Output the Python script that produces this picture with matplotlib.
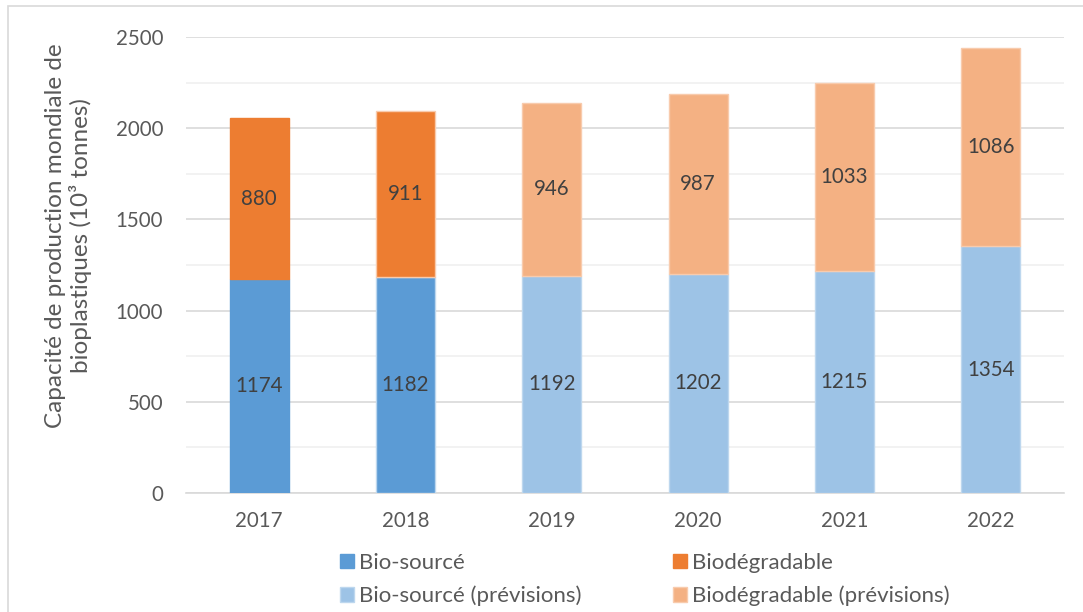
import matplotlib
matplotlib.use("Agg")
import matplotlib.pyplot as plt
from matplotlib.patches import Rectangle, Patch
import numpy as np

years = ["2017", "2018", "2019", "2020", "2021", "2022"]
bio_source = [1174, 1182, 1192, 1202, 1215, 1354]
biodegradable = [880, 911, 946, 987, 1033, 1086]
forecast = [False, False, True, True, True, True]
legend_labels = ["Bio-sourcé", "Biodégradable", "Bio-sourcé (prévisions)", "Biodégradable (prévisions)"]
ylabel = "Capacité de production mondiale de\nbioplastiques (10³ tonnes)"
yticks = [0, 500, 1000, 1500, 2000, 2500]

c_bs = "#5B9BD5"
c_bd = "#ED7D31"
c_bs_f = "#9DC3E6"
c_bd_f = "#F4B183"
text_col = "#595959"
label_col = "#404040"

plt.rcParams['font.family'] = ['Lato', 'DejaVu Sans']

W, H = 1083, 612
fig = plt.figure(figsize=(W / 100, H / 100), dpi=100)
fig.patches.append(Rectangle((8 / W, -0.1), 1.2, (H - 6) / H + 0.1, transform=fig.transFigure,
                             fill=False, edgecolor="#D9D9D9", linewidth=1.2))
ax = fig.add_axes([186 / W, 1 - 493 / H, 878 / W, 456 / H])

x = np.arange(len(years))
w = 0.405
fs = 14.8
for i in range(len(years)):
    f = forecast[i]
    cb = c_bs_f if f else c_bs
    co = c_bd_f if f else c_bd
    edge_b = "#BDD7EE" if (f or i == 1) else cb
    edge_o = "#F8CBAD" if (f or i == 1) else co
    ax.bar(x[i], bio_source[i], width=w, color=cb, edgecolor=edge_b, linewidth=1.0, zorder=3)
    ax.bar(x[i], biodegradable[i], width=w, bottom=bio_source[i], color=co,
           edgecolor=edge_o, linewidth=1.0, zorder=3)
    ax.text(x[i], bio_source[i] / 2, str(bio_source[i]), ha="center", va="center",
            fontsize=fs, color=label_col, zorder=4)
    ax.text(x[i], bio_source[i] + biodegradable[i] / 2, str(biodegradable[i]), ha="center",
            va="center", fontsize=fs, color=label_col, zorder=4)

ax.set_xlim(-0.5, len(years) - 0.5)
ax.set_ylim(0, 2500)
ax.set_yticks(yticks)
ax.set_yticks(np.arange(250, 2500, 500), minor=True)
ax.set_xticks(x)
ax.set_xticklabels(years)
ax.tick_params(axis="both", which="both", length=0, labelsize=fs, labelcolor=text_col)
ax.tick_params(axis="y", pad=16.5)
ax.tick_params(axis="x", pad=13)
ax.grid(axis="y", which="major", color="#D9D9D9", linewidth=1.2, zorder=0)
ax.grid(axis="y", which="minor", color="#F0F0F0", linewidth=1.2, zorder=0)
for s in ["top", "right", "left"]:
    ax.spines[s].set_visible(False)
ax.spines["bottom"].set_color("#D9D9D9")
ax.spines["bottom"].set_linewidth(1.2)
ax.set_axisbelow(True)

fig.text(68.5 / W, 1 - 236 / H, ylabel, rotation=90, ha="center", va="center",
         fontsize=17.5, color=text_col, linespacing=1.12, multialignment="center")

handles = [Patch(facecolor=c_bs, edgecolor=c_bs), Patch(facecolor=c_bd, edgecolor=c_bd),
           Patch(facecolor=c_bs_f, edgecolor="#BDD7EE"), Patch(facecolor=c_bd_f, edgecolor="#F8CBAD")]
leg_kw = dict(loc="center left", frameon=False, fontsize=16, handlelength=0.63,
              handleheight=0.63, handletextpad=0.22, labelspacing=0.58,
              borderaxespad=0, borderpad=0)
leg1 = fig.legend([handles[0], handles[2]], [legend_labels[0], legend_labels[2]],
                  bbox_to_anchor=(340 / W, 1 - 579.5 / H), **leg_kw)
leg2 = fig.legend([handles[1], handles[3]], [legend_labels[1], legend_labels[3]],
                  bbox_to_anchor=(673 / W, 1 - 579.5 / H), **leg_kw)
for leg in (leg1, leg2):
    for t in leg.get_texts():
        t.set_color(text_col)

fig.savefig("out.png", dpi=100)
